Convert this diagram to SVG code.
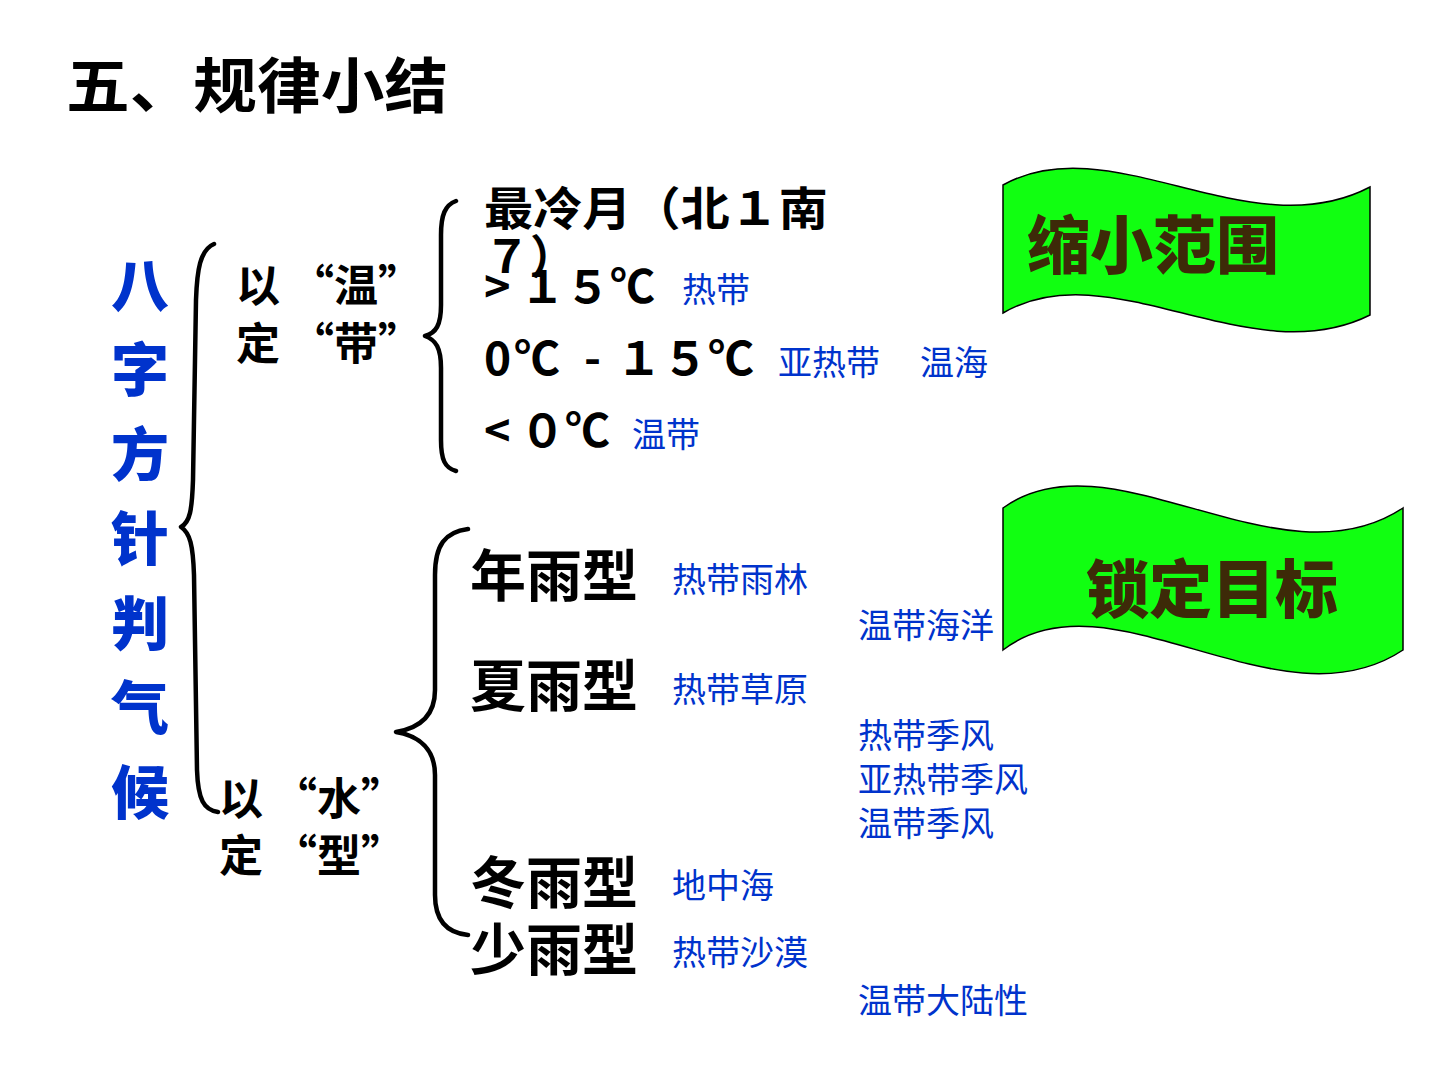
<svg xmlns="http://www.w3.org/2000/svg" width="1440" height="1080" viewBox="0 0 1440 1080">
<style>
.t{font-family:"Noto Sans CJK SC","Liberation Sans",sans-serif;font-weight:700;fill:#000}
.b{font-family:"Noto Sans CJK SC","Liberation Sans",sans-serif;font-weight:400;fill:#0033cc;font-size:34px}
.v{font-family:"Noto Sans CJK SC",sans-serif;font-weight:900;fill:#0033cc;font-size:58px}
.br{fill:none;stroke:#000;stroke-width:4.5;stroke-linecap:round;stroke-linejoin:round}
.flag{fill:#11ff11;stroke:#000;stroke-width:1.5}
.ft{font-family:"Noto Sans CJK SC",sans-serif;font-weight:900;fill:#3d2a08}
</style>
<rect width="1440" height="1080" fill="#fff"/>
<g id="title"><text class="t" x="66" y="108" font-size="60" textLength="382" lengthAdjust="spacingAndGlyphs">五、规律小结</text></g>
<g id="vertical">
<text class="v" x="140" y="307" text-anchor="middle">八</text>
<text class="v" x="140" y="391" text-anchor="middle">字</text>
<text class="v" x="140" y="476" text-anchor="middle">方</text>
<text class="v" x="140" y="560" text-anchor="middle">针</text>
<text class="v" x="140" y="645" text-anchor="middle">判</text>
<text class="v" x="140" y="729" text-anchor="middle">气</text>
<text class="v" x="140" y="814" text-anchor="middle">候</text>
</g>
<g id="connectors">
<path class="br" d="M214,244 C200,250 197,270 196,300 L193,480 C192,510 190,522 181,527 C190,533 193,545 194,575 L197,770 C198,800 204,810 218,812"/>
<path class="br" d="M456,201 C445,205 441,215 441,235 L441,305 C441,325 436,333 425,336 C436,340 441,348 441,368 L441,440 C441,460 445,468 456,471"/>
<path class="br" d="M468,529 C445,532 435,545 435,575 L435,690 C435,715 420,728 396,732 C420,736 435,750 435,775 L435,895 C435,922 448,933 468,935"/>
</g>
<g id="temp-label">
<text class="t" x="236" y="302" font-size="44">以 “温”</text>
<text class="t" x="236" y="360" font-size="44">定 “带”</text>
</g>
<g id="water-label">
<text class="t" x="219" y="815" font-size="44">以 “水”</text>
<text class="t" x="219" y="872" font-size="44">定 “型”</text>
</g>
<g id="temp-items">
<text class="t" x="484" y="225" font-size="46" textLength="344" lengthAdjust="spacingAndGlyphs">最冷月（北１南</text>
<text class="t" x="484" y="273" font-size="46">７）</text>
<text class="t" x="484" y="303" font-size="45">&gt;</text>
<text class="t" x="520" y="303" font-size="45">１５℃</text>
<text class="b" x="682" y="302">热带</text>
<text class="t" x="484" y="375" font-size="46">0</text>
<text class="t" x="514" y="375" font-size="46">℃</text>
<text class="t" x="584" y="375" font-size="46">-</text>
<text class="t" x="616" y="375" font-size="46">１５℃</text>
<text class="b" x="778" y="375">亚热带</text>
<text class="b" x="920" y="375">温海</text>
<text class="t" x="484" y="447" font-size="45">&lt;</text>
<text class="t" x="520" y="447" font-size="45">０℃</text>
<text class="b" x="632" y="447">温带</text>
</g>
<g id="rain-items">
<text class="t" x="470" y="596" font-size="56">年雨型</text>
<text class="b" x="672" y="592" font-size="36">热带雨林</text>
<text class="b" x="858" y="638" font-size="36">温带海洋</text>
<text class="t" x="470" y="706" font-size="56">夏雨型</text>
<text class="b" x="672" y="702" font-size="36">热带草原</text>
<text class="b" x="858" y="748" font-size="36">热带季风</text>
<text class="b" x="858" y="792" font-size="36">亚热带季风</text>
<text class="b" x="858" y="836" font-size="36">温带季风</text>
<text class="t" x="470" y="903" font-size="56">冬雨型</text>
<text class="b" x="672" y="898" font-size="36">地中海</text>
<text class="t" x="470" y="970" font-size="56">少雨型</text>
<text class="b" x="672" y="965" font-size="36">热带沙漠</text>
<text class="b" x="858" y="1013" font-size="36">温带大陆性</text>
</g>
<g id="flag-narrow">
<path class="flag" d="M1003,185 C1110,125 1250,250 1370,187 L1370,315 C1250,375 1110,250 1003,313 Z"/>
<text class="ft" x="1027" y="268" font-size="63">缩小范围</text>
</g>
<g id="flag-lock">
<path class="flag" d="M1003,508 C1110,430 1280,590 1403,508 L1403,650 C1280,732 1110,568 1003,650 Z"/>
<text class="ft" x="1086" y="612" font-size="63">锁定目标</text>
</g>
</svg>
